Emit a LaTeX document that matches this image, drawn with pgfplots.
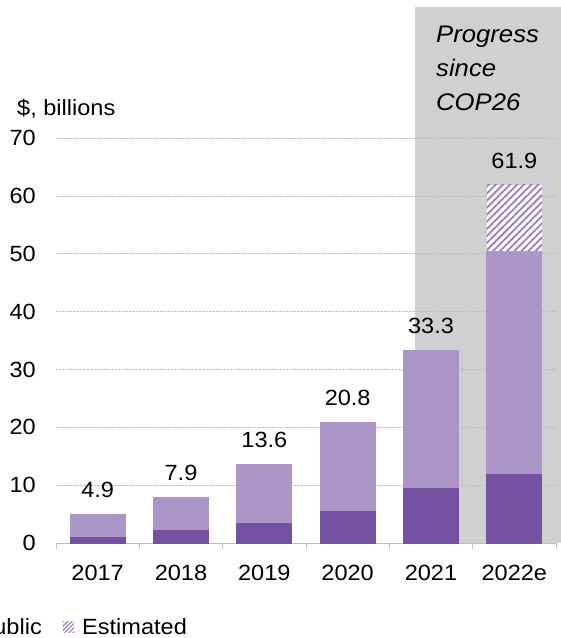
\documentclass[border=0pt]{standalone}
\usepackage{fontspec}
\setmainfont{Liberation Sans}[FakeStretch=1.07]
\usepackage{pgfplots}
\pgfplotsset{compat=1.18}
\usetikzlibrary{patterns.meta}
\definecolor{darkp}{HTML}{7551A1}
\definecolor{lightp}{HTML}{AC96C8}
\definecolor{hatchp}{HTML}{9A7CC6}
\definecolor{bggrey}{HTML}{D0D0D0}
\definecolor{gridc}{HTML}{BFBFBF}
\newcommand\fs{\fontsize{22}{26}\selectfont}
\begin{document}
\begin{tikzpicture}[font=\fs]
\useasboundingbox (0pt,0pt) rectangle (561pt,638pt);
\clip (0pt,0pt) rectangle (561pt,638pt);
\fill[bggrey] (415pt,95pt) rectangle (561pt,631pt);
\begin{axis}[
  at={(56pt,95pt)}, anchor=south west,
  scale only axis, width=500pt, height=405pt,
  ybar, bar width=56pt, bar shift=0pt,
  xmin=-0.5, xmax=5.5, ymin=0, ymax=70,
  xtick={0,1,2,3,4,5},
  xticklabels={2017,2018,2019,2020,2021,2022e},
  minor xtick={-0.5,0.5,1.5,2.5,3.5,4.5,5.5},
  ytick={0,10,...,70},
  major tick length=0pt, minor tick length=6pt, tick align=outside,
  minor tick style={gridc, line width=0.8pt},
  axis x line*=bottom, axis y line*=left,
  x axis line style={gridc, line width=0.8pt, -},
  y axis line style={draw=none},
  ymajorgrids, grid style={gridc, densely dotted, line width=0.6pt},
  /pgf/number format/assume math mode=true,
  tick label style={font=\fs, text=black},
  xticklabel style={anchor=base, inner sep=0pt, yshift=-37pt},
  yticklabel style={anchor=east, inner sep=0pt, xshift=-20pt},
  nodes near coords style={font=\fs, anchor=south, inner sep=0pt, yshift=16pt, text=black},
  clip=false,
]
% estimated (hatched) top of 2022e bar
\addplot[bar shift=0pt, bar width=55pt, fill=white, draw=none,
  postaction={pattern={Lines[angle=45,distance=5pt,line width=1.8pt]}, pattern color=hatchp},
  nodes near coords, point meta=explicit symbolic]
  coordinates {(5,61.9)[61.9]};
% light: total without estimate
\addplot[bar shift=0pt, bar width=55pt, fill=lightp, draw=lightp, line width=1.2pt, nodes near coords, point meta=explicit symbolic]
  coordinates {(0,4.9)[4.9] (1,7.9)[7.9] (2,13.6)[13.6] (3,20.8)[20.8] (4,33.3)[33.3] (5,50.4)[{}]};
% dark part
\addplot[bar shift=0pt, bar width=55pt, fill=darkp, draw=darkp, line width=1.2pt]
  coordinates {(0,1.0) (1,2.1) (2,3.3) (3,5.5) (4,9.4) (5,11.9)};
\end{axis}
\node[anchor=base west, inner sep=0pt] at (17pt,522pt) {\$, billions};
\node[anchor=north west, inner sep=0pt, align=left, font=\itshape\fontsize{24}{34}\selectfont] at (436pt,612pt) {Progress\\since\\COP26};
\fill[darkp] (-32pt,5pt) rectangle (-21pt,16pt);
\node[anchor=base east, inner sep=0pt] at (42pt,4pt) {Public};
\fill[white, postaction={pattern={Lines[angle=45,distance=3pt,line width=1.2pt]}, pattern color=hatchp}] (63pt,5pt) rectangle (74pt,16pt);
\node[anchor=base west, inner sep=0pt] at (82pt,4pt) {Estimated};
\end{tikzpicture}
\end{document}
